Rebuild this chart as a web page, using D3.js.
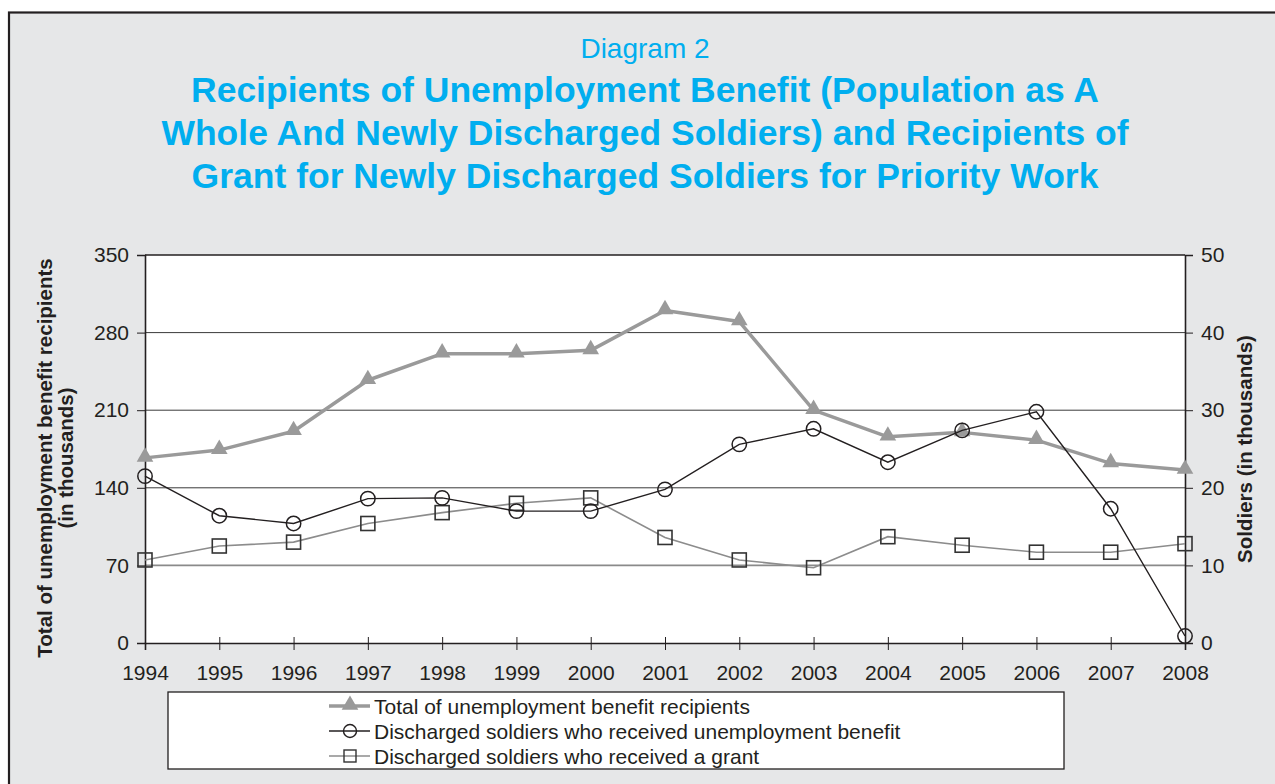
<!DOCTYPE html>
<html>
<head>
<meta charset="utf-8">
<script src="https://cdn.jsdelivr.net/npm/d3@7"></script>
<style>
  html, body { margin: 0; padding: 0; background: #ffffff; }
  svg { display: block; font-family: "Liberation Sans", Arial, sans-serif; }
</style>
</head>
<body>
<svg id="chart" width="1275" height="784"></svg>
<script>
// Years on the x axis
const years = [1994, 1995, 1996, 1997, 1998, 1999, 2000, 2001, 2002, 2003, 2004, 2005, 2006, 2007, 2008];

// Total unemployment benefit recipients (thousands, left axis)
const totalRecipients = [167, 174, 191, 237, 261, 261, 264, 300, 290, 210, 186, 190, 183, 162, 156];

// Discharged soldiers who received unemployment benefit (thousands, right axis)
const soldiersBenefit = [21.5, 16.4, 15.4, 18.6, 18.7, 17.0, 17.0, 19.8, 25.6, 27.6, 23.3, 27.4, 29.8, 17.3, 0.9];

// Discharged soldiers who received a grant (thousands, right axis)
const soldiersGrant = [10.7, 12.5, 13.0, 15.4, 16.8, 18.0, 18.7, 13.6, 10.7, 9.7, 13.7, 12.6, 11.7, 11.7, 12.8];

// Tick values
const leftTicks = [0, 70, 140, 210, 280, 350];
const rightTicks = [0, 10, 20, 30, 40, 50];

const titleSmall = "Diagram 2";
const titleLines = [
  "Recipients of Unemployment Benefit (Population as A",
  "Whole And Newly Discharged Soldiers) and Recipients of",
  "Grant for Newly Discharged Soldiers for Priority Work"
];
const leftAxisTitle = ["Total of unemployment benefit recipients", "(in thousands)"];
const rightAxisTitle = "Soldiers (in thousands)";
const legendLabels = [
  "Total of unemployment benefit recipients",
  "Discharged soldiers who received unemployment benefit",
  "Discharged soldiers who received a grant"
];

const ink = "#231f20";
const blue = "#00aeef";
const bg = "#e6e7e8";
const tickFont = 21;

const svg = d3.select("#chart");

// Panel background and frame
svg.append("rect").attr("x", 0).attr("y", 0).attr("width", 1275).attr("height", 784).attr("fill", "#ffffff");
svg.append("rect")
  .attr("x", 9).attr("y", 12.5).attr("width", 1300).attr("height", 800)
  .attr("fill", bg).attr("stroke", ink).attr("stroke-width", 2.2);

// Titles
svg.append("text")
  .attr("x", 645).attr("y", 58)
  .attr("text-anchor", "middle")
  .attr("fill", blue).attr("font-size", 28)
  .text(titleSmall);

svg.append("g").selectAll("text").data(titleLines).join("text")
  .attr("x", 645).attr("y", (d, i) => 102 + i * 43)
  .attr("text-anchor", "middle")
  .attr("fill", blue).attr("font-size", 35.5).attr("font-weight", "bold")
  .text(d => d);

// Plot geometry
const plot = { left: 145, right: 1185, top: 255, bottom: 643 };

const x = d3.scaleLinear().domain([1994, 2008]).range([plot.left, plot.right]);
const yL = d3.scaleLinear().domain([0, 350]).range([plot.bottom, plot.top]);
const yR = d3.scaleLinear().domain([0, 50]).range([plot.bottom, plot.top]);

// Plot area
svg.append("rect")
  .attr("x", plot.left).attr("y", plot.top)
  .attr("width", plot.right - plot.left).attr("height", plot.bottom - plot.top)
  .attr("fill", "#ffffff");

// Horizontal gridlines
svg.append("g").selectAll("line").data(leftTicks.filter(t => t > 0)).join("line")
  .attr("x1", plot.left).attr("x2", plot.right)
  .attr("y1", d => yL(d)).attr("y2", d => yL(d))
  .attr("stroke", d => d === 70 ? "#8a8a8a" : (d === 350 ? ink : "#3a3a3a"))
  .attr("stroke-width", d => d === 70 ? 1.6 : (d === 350 ? 1.6 : 1));

// Left axis
const leftAxis = d3.axisLeft(yL).tickValues(leftTicks).tickSize(8).tickPadding(8).tickFormat(d3.format("d"));
const gL = svg.append("g").attr("transform", `translate(${plot.left},0)`).call(leftAxis);
gL.select(".domain").attr("stroke", ink).attr("stroke-width", 1.6);
gL.selectAll(".tick line").attr("stroke", ink);
gL.selectAll(".tick text").attr("fill", ink).attr("font-size", tickFont).attr("font-family", "Liberation Sans, Arial, sans-serif");

// Right axis
const rightAxis = d3.axisRight(yR).tickValues(rightTicks).tickSize(8).tickPadding(8).tickFormat(d3.format("d"));
const gR = svg.append("g").attr("transform", `translate(${plot.right},0)`).call(rightAxis);
gR.select(".domain").attr("stroke", ink).attr("stroke-width", 1.6);
gR.selectAll(".tick line").attr("stroke", ink);
gR.selectAll(".tick text").attr("fill", ink).attr("font-size", tickFont).attr("font-family", "Liberation Sans, Arial, sans-serif");

// Bottom axis (ticks cross the baseline)
const bottomAxis = d3.axisBottom(x).tickValues(years).tickSize(7).tickPadding(15).tickFormat(d3.format("d"));
const gB = svg.append("g").attr("transform", `translate(0,${plot.bottom})`).call(bottomAxis);
gB.select(".domain").attr("stroke", ink).attr("stroke-width", 1.6);
gB.selectAll(".tick line").attr("stroke", ink).attr("y1", -6);
gB.selectAll(".tick text").attr("fill", ink).attr("font-size", tickFont).attr("font-family", "Liberation Sans, Arial, sans-serif");

// Axis titles
const lt = svg.append("text")
  .attr("transform", `translate(52,${(plot.top + plot.bottom) / 2 + 9}) rotate(-90)`)
  .attr("text-anchor", "middle")
  .attr("fill", ink).attr("font-size", 20.5).attr("font-weight", "bold");
lt.selectAll("tspan").data(leftAxisTitle).join("tspan")
  .attr("x", 0).attr("dy", (d, i) => i === 0 ? 0 : 21)
  .text(d => d);

svg.append("text")
  .attr("transform", `translate(1252,${(plot.top + plot.bottom) / 2}) rotate(-90)`)
  .attr("text-anchor", "middle")
  .attr("fill", ink).attr("font-size", 20.5).attr("font-weight", "bold")
  .text(rightAxisTitle);

// Series data joined with years
const totalData = years.map((yr, i) => ({ yr, v: totalRecipients[i] }));
const benefitData = years.map((yr, i) => ({ yr, v: soldiersBenefit[i] }));
const grantData = years.map((yr, i) => ({ yr, v: soldiersGrant[i] }));

const lineL = d3.line().x(d => x(d.yr)).y(d => yL(d.v));
const lineR = d3.line().x(d => x(d.yr)).y(d => yR(d.v));

const triangle = d3.symbol().type(d3.symbolTriangle).size(120);

// Grant series (light grey line with squares)
svg.append("path").datum(grantData)
  .attr("d", lineR).attr("fill", "none").attr("stroke", "#8c8c8c").attr("stroke-width", 1.6);
svg.append("g").selectAll("rect").data(grantData).join("rect")
  .attr("x", d => x(d.yr) - 7).attr("y", d => yR(d.v) - 7)
  .attr("width", 14).attr("height", 14)
  .attr("fill", "none").attr("stroke", "#333333").attr("stroke-width", 1.6);

// Total series (thick grey line with triangles)
svg.append("path").datum(totalData)
  .attr("d", lineL).attr("fill", "none").attr("stroke", "#9a9a9a").attr("stroke-width", 3.5)
  .attr("stroke-linejoin", "round");
svg.append("g").selectAll("path").data(totalData).join("path")
  .attr("d", triangle)
  .attr("transform", d => `translate(${x(d.yr)},${yL(d.v) - 1})`)
  .attr("fill", "#9a9a9a");

// Benefit series (dark line with open circles)
svg.append("path").datum(benefitData)
  .attr("d", lineR).attr("fill", "none").attr("stroke", ink).attr("stroke-width", 1.4);
svg.append("g").selectAll("circle").data(benefitData).join("circle")
  .attr("cx", d => x(d.yr)).attr("cy", d => yR(d.v)).attr("r", 7.2)
  .attr("fill", "none").attr("stroke", ink).attr("stroke-width", 1.5);

// Legend
const leg = { x: 168, y: 692, w: 896, h: 77 };
svg.append("rect")
  .attr("x", leg.x).attr("y", leg.y).attr("width", leg.w).attr("height", leg.h)
  .attr("fill", "#ffffff").attr("stroke", ink).attr("stroke-width", 1.3);

const legRows = svg.append("g").selectAll("g").data(legendLabels).join("g")
  .attr("transform", (d, i) => `translate(0,${706 + i * 25})`);

legRows.append("line")
  .attr("x1", 329).attr("x2", 370).attr("y1", 0).attr("y2", 0)
  .attr("stroke", (d, i) => i === 0 ? "#9a9a9a" : (i === 1 ? ink : "#8c8c8c"))
  .attr("stroke-width", (d, i) => i === 0 ? 3.5 : 1.4);

legRows.filter((d, i) => i === 0).append("path")
  .attr("d", triangle).attr("transform", "translate(350,-1)").attr("fill", "#9a9a9a");
legRows.filter((d, i) => i === 1).append("circle")
  .attr("cx", 350).attr("cy", 0).attr("r", 6.5)
  .attr("fill", "none").attr("stroke", ink).attr("stroke-width", 1.4);
legRows.filter((d, i) => i === 2).append("rect")
  .attr("x", 344).attr("y", -6).attr("width", 12).attr("height", 12)
  .attr("fill", "none").attr("stroke", "#333333").attr("stroke-width", 1.4);

legRows.append("text")
  .attr("x", 374).attr("y", 7.5)
  .attr("fill", ink).attr("font-size", 21)
  .text(d => d);
</script>
</body>
</html>
